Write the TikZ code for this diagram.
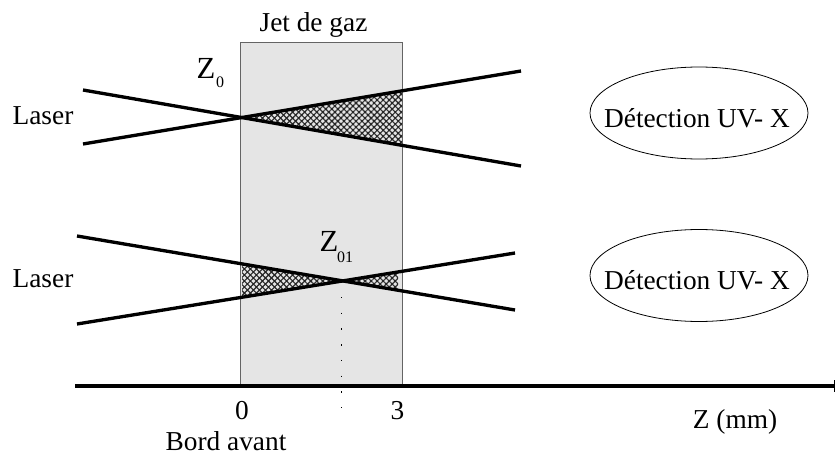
\documentclass[tikz,border=0pt]{standalone}
\usepackage{fontspec}
\setmainfont{Liberation Serif}
\usetikzlibrary{arrows.meta,patterns.meta,shapes.geometric}
\definecolor{JetFill}{RGB}{229,229,229}
\definecolor{JetEdge}{RGB}{100,100,100}

\begin{document}
\begin{tikzpicture}[
  x=0.75pt,
  y=-0.75pt,
  lbl/.style={inner sep=0pt, font=\fontsize{20.5}{24}\selectfont},
  sub/.style={inner sep=0pt, font=\fontsize{12}{14}\selectfont},
  beam/.style={line width=2.5pt, black},
  hatched/.style={pattern={Hatch[angle=45,distance=3.2pt,line width=0.85pt]}, pattern color=black!85},
  detect/.style={ellipse, draw, line width=0.6pt, minimum width=163.5pt, minimum height=69pt, inner sep=0pt},
  axis/.style={line width=3pt, -{Bar[width=9pt,line width=1pt]}}
]
\useasboundingbox (0,0) rectangle (836,453);

% Gas jet
\node[draw=JetEdge, fill=JetFill, line width=0.8pt, minimum width=121.5pt, minimum height=258pt, inner sep=0pt, anchor=north west] (jet) at (239.7,41.7) {};
\node[lbl] (jetlabel) at (313.5,25) {Jet de gaz};

% Upper beam
\coordinate (z0) at (241,118);
\coordinate (upA) at (83,90);
\coordinate (upB) at (521,166);
\coordinate (upC) at (83,144);
\coordinate (upD) at (521,71);
\coordinate (upE) at (402,91);
\coordinate (upF) at (402,146);
\fill[hatched] (z0) -- (upE) -- (upF) -- cycle;
\draw[beam] (upA) -- (upB);
\draw[beam] (upC) -- (upD);

% Lower beam
\coordinate (z01) at (343,280);
\coordinate (lowA) at (77,236);
\coordinate (lowB) at (515,310);
\coordinate (lowC) at (77,324);
\coordinate (lowD) at (515,253);
\coordinate (lowE) at (242,264);
\coordinate (lowF) at (242,296);
\coordinate (lowG) at (398,271);
\coordinate (lowH) at (398,289);
\fill[hatched] (z01) -- (lowE) -- (lowF) -- cycle;
\fill[hatched] (z01) -- (lowG) -- (lowH) -- cycle;
\draw[beam] (lowA) -- (lowB);
\draw[beam] (lowC) -- (lowD);

% Axis
\coordinate (axisstart) at (75,386);
\coordinate (axisend) at (835,386);
\coordinate (dotstart) at (341,297);
\coordinate (dotend) at (341,410);
\draw[axis] (axisstart) -- (axisend);
\draw[line width=0.5pt, dash pattern=on 1pt off 10.8pt] (dotstart) -- (dotend);

% Labels
\node[lbl] (laserup) at (43,116) {Laser};
\node[lbl] (laserlow) at (43,279) {Laser};
\node[lbl, font=\fontsize{23}{26}\selectfont] (zzero) at (206,68) {Z};
\node[sub] (zzerosub) at (220,82.5) {0};
\node[lbl, font=\fontsize{23}{26}\selectfont] (zone) at (329,241) {Z};
\node[sub] (zonesub) at (345,257) {01};
\node[lbl] (tick0) at (242,411) {0};
\node[lbl] (tick3) at (397.5,411) {3};
\node[lbl] (bord) at (226,441) {Bord avant};
\node[lbl] (zmm) at (735,422) {Z (mm)};

% Detection
\node[detect] (detup) at (699,113) {};
\node[detect] (detlow) at (699,275.5) {};
\node[lbl] (detuptext) at (697,118) {Détection UV- X};
\node[lbl] (detlowtext) at (697,280) {Détection UV- X};
\end{tikzpicture}
\end{document}
